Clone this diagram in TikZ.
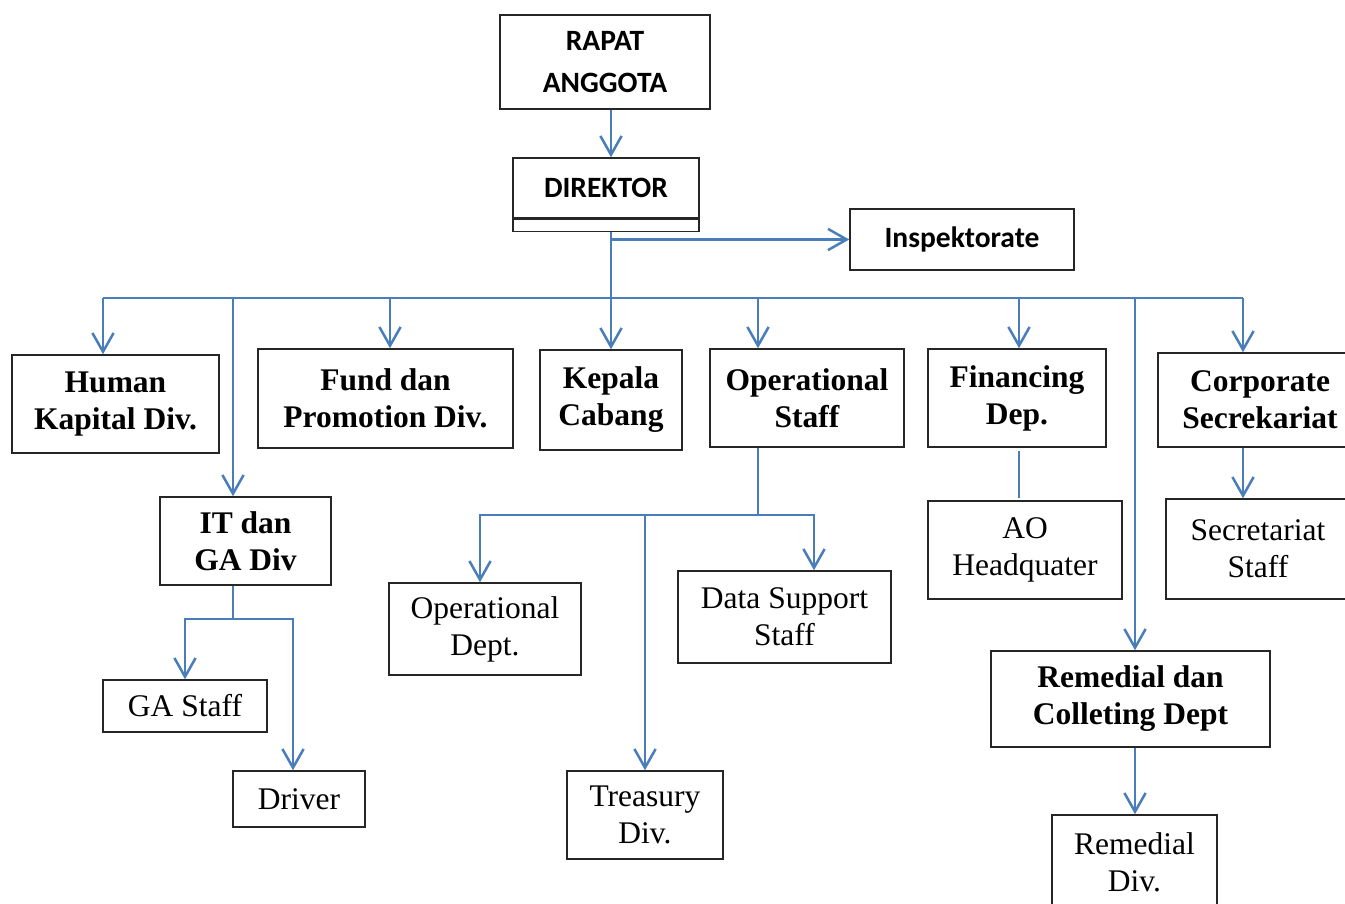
\documentclass[tikz,border=0pt]{standalone}
\usepackage{fontspec}
\setmainfont{Liberation Serif}
\newfontfamily\calibri{Carlito}
\usetikzlibrary{arrows.meta}
\definecolor{linkblue}{RGB}{74,126,187}

\begin{document}
\begin{tikzpicture}[
					x=0.4pt, y=-0.4pt,
					box/.style={rectangle,draw=black!85,line width=0.6pt,inner sep=0pt,align=center,font=\fontsize{12.6}{14.8}\selectfont},
					boldbox/.style={box,font=\fontsize{12.6}{14.8}\selectfont\bfseries},
					capbox/.style={box,font=\calibri\fontsize{11.8}{16.8}\selectfont\bfseries},
					dims/.style 2 args={minimum width=#1*0.4pt,minimum height=#2*0.4pt},
					link/.style={draw=linkblue,line width=1pt},
					go/.style={link,-{Straight Barb[length=7.5pt,width=8.5pt]}},
					]
					\useasboundingbox (0,0) rectangle (1345,904);
					\clip (0,0) rectangle (1345,904);
					\node [capbox,dims={210}{94}] (rapat) at (605,62) {RAPAT\\ANGGOTA};
					\node [capbox,dims={186}{60}] (direktor) at (606,188) {DIREKTOR};
					\node [box,dims={186}{12},anchor=north] (dirbase) at (direktor.south) {};
					\node [capbox,dims={224}{61}] (inspek) at (962,239.5) {Inspektorate};
					\node [boldbox,dims={207}{98}] (human) at (115.5,404) {Human\\Kapital Div.};
					\node [boldbox,dims={255}{99}] (fund) at (385.5,398.5) {Fund dan\\Promotion Div.};
					\node [boldbox,dims={142}{100}] (kepala) at (611,400) {Kepala\\Cabang};
					\node [boldbox,dims={194}{98}] (ops) at (807,398) {Operational\\Staff};
					\node [boldbox,dims={178}{98}] (fin) at (1017,398) {Financing\\Dep.};
					\node [boldbox,dims={204}{94}] (corp) at (1260,400) {Corporate\\Secrekariat};
					\node [boldbox,dims={171}{88}] (itga) at (245.5,541) {IT dan\\GA Div};
					\node [box,dims={194}{98}] (ao) at (1025,550) {AO\\Headquater};
					\node [box,dims={184}{100}] (sec) at (1258,549) {Secretariat\\Staff};
					\node [box,dims={164}{52}] (gastaff) at (185,706) {GA Staff};
					\node [box,dims={132}{56}] (driver) at (299,799) {Driver};
					\node [box,dims={192}{92}] (opdept) at (485,629) {Operational\\Dept.};
					\node [box,dims={213}{92}] (datasup) at (784.5,617) {Data Support\\Staff};
					\node [box,dims={156}{88}] (treasury) at (645,815) {Treasury\\Div.};
					\node [boldbox,dims={279}{96}] (remcol) at (1130.5,699) {Remedial dan\\Colleting Dept};
					\node [box,dims={165}{94}] (remdiv) at (1134.5,862) {Remedial\\Div.};
					\coordinate (trunk) at (611,298);
					\draw[go] (rapat.south -| trunk) -- (direktor.north -| trunk);
					\draw[go] (dirbase.south -| trunk) -- (kepala.north);
					\draw[go] (trunk |- inspek.west) -- (inspek.west);
					\draw[link] (103,298) coordinate (busL) -- (1243,298) coordinate (busR);
					\foreach \x/\t in {103/human,233/itga,390/fund,758/ops,1019/fin,1135/remcol,1243/corp}{
						\coordinate (d-\t) at (\x,298);
						\draw[go] (d-\t) -- (d-\t |- \t.north);
					}
					\draw[link,shorten <=1.5pt,shorten >=1pt] (d-fin |- fin.south) -- (d-fin |- ao.north);
					\draw[go] (d-corp |- corp.south) -- (d-corp |- sec.north);
					\draw[go] (d-remcol |- remcol.south) -- (d-remcol |- remdiv.north);
					\coordinate (itfork) at (233,619);
					\draw[link] (d-itga |- itga.south) -- (itfork);
					\draw[go] (itfork) -| (gastaff.north);
					\draw[go] (itfork) -| ([xshift=-2.4pt]driver.north);
					\coordinate (opsfork) at (758,515);
					\draw[link] (d-ops |- ops.south) -- (opsfork);
					\draw[go] (opsfork) -| ([xshift=-2pt]opdept.north);
					\draw[go] (opsfork) -| (treasury.north);
					\draw[go] (opsfork) -| ([xshift=11.8pt]datasup.north);
				\end{tikzpicture}
\end{document}
